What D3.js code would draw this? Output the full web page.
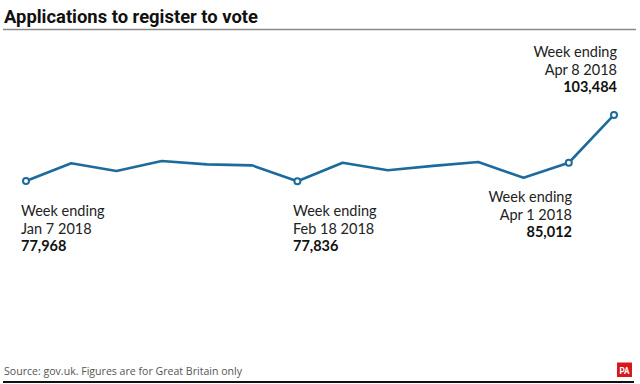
<!DOCTYPE html>
<html>
<head>
<meta charset="utf-8">
<script src="https://cdn.jsdelivr.net/npm/d3@7"></script>
<style>
  body { margin: 0; background: #fff; }
  svg { display: block; font-family: "Open Sans", sans-serif; }
</style>
</head>
<body>
<div id="root"></div>
<script>
const weeks = ["2018-01-07", "2018-01-14", "2018-01-21", "2018-01-28", "2018-02-04",
    "2018-02-11", "2018-02-18", "2018-02-25", "2018-03-04", "2018-03-11",
    "2018-03-18", "2018-03-25", "2018-04-01", "2018-04-08"];
const applications = [77968, 84800, 81800, 85700, 84400, 84000, 77836,
    85000, 82100, 83800, 85300, 79200, 85012, 103484];
const callouts = [
    { i: 0, date: "Jan 7 2018", anchor: "start" },
    { i: 6, date: "Feb 18 2018", anchor: "start" },
    { i: 12, date: "Apr 1 2018", anchor: "end" },
    { i: 13, date: "Apr 8 2018", anchor: "end" }
];

const width = 640,
    height = 384;

const parse = d3.timeParse("%Y-%m-%d");
const data = weeks.map((w, i) => ({ date: parse(w), value: applications[i] }));

const x = d3.scaleTime()
    .domain(d3.extent(data, d => d.date))
    .range([26, 614]);

const y = d3.scaleLinear()
    .domain([70000, 110000])
    .range([201.6, 98.1]);

const svg = d3.select("#root").append("svg")
    .attr("width", width)
    .attr("height", height);

// title
svg.append("text")
    .attr("x", 4)
    .attr("y", 23)
    .attr("font-family", "Roboto, sans-serif")
    .attr("font-weight", "bold")
    .attr("font-size", 18)
    .attr("fill", "#111")
    .attr("textLength", 254)
    .attr("lengthAdjust", "spacingAndGlyphs")
    .text("Applications to register to vote");

svg.append("line")
    .attr("x1", 3).attr("x2", 636)
    .attr("y1", 29.5).attr("y2", 29.5)
    .attr("stroke", "#8a8a8a")
    .attr("stroke-width", 1.5);

// line
const line = d3.line()
    .x(d => x(d.date))
    .y(d => y(d.value));

svg.append("path")
    .datum(data)
    .attr("fill", "none")
    .attr("stroke", "#1c6b9c")
    .attr("stroke-width", 2.6)
    .attr("stroke-linejoin", "round")
    .attr("d", line);

svg.selectAll(".dot")
    .data(callouts)
    .enter()
    .append("circle")
    .attr("class", "dot")
    .attr("cx", d => x(data[d.i].date))
    .attr("cy", d => y(data[d.i].value))
    .attr("r", 3)
    .attr("fill", "#fff")
    .attr("stroke", "#1c6b9c")
    .attr("stroke-width", 2);

// callout labels, one text per line
const labelPos = [
    { x: 21, y: 216 },
    { x: 293, y: 216 },
    { x: 572, y: 202 },
    { x: 617, y: 57 }
];
const rows = [
    { dy: 0, bold: false, get: d => "Week ending" },
    { dy: 17.5, bold: false, get: d => d.date },
    { dy: 35, bold: true, get: d => d3.format(",")(applications[d.i]) }
];

const label = svg.selectAll(".label")
    .data(callouts)
    .enter()
    .append("g")
    .attr("class", "label")
    .attr("transform", (d, k) => "translate(" + labelPos[k].x + "," + labelPos[k].y + ")");

rows.forEach(r => {
    label.append("text")
        .attr("y", r.dy)
        .attr("text-anchor", d => d.anchor)
        .attr("font-family", "Lato, sans-serif")
        .attr("font-size", 14.5)
        .attr("font-weight", r.bold ? "bold" : "normal")
        .attr("fill", r.bold ? "#111" : "#222")
        .text(r.get);
});

// footer
svg.append("text")
    .attr("x", 4)
    .attr("y", 375)
    .attr("font-size", 11.5)
    .attr("fill", "#555")
    .attr("textLength", 238)
    .attr("lengthAdjust", "spacingAndGlyphs")
    .text("Source: gov.uk. Figures are for Great Britain only");

svg.append("line")
    .attr("x1", 3).attr("x2", 634)
    .attr("y1", 382).attr("y2", 382)
    .attr("stroke", "#111")
    .attr("stroke-width", 2);

svg.append("rect")
    .attr("x", 617).attr("y", 362.5)
    .attr("width", 15).attr("height", 14.5)
    .attr("fill", "#d7191c");

svg.append("text")
    .attr("x", 624.5).attr("y", 373.5)
    .attr("text-anchor", "middle")
    .attr("font-family", "Roboto, sans-serif")
    .attr("font-weight", "bold")
    .attr("font-size", 9)
    .attr("fill", "#fff")
    .attr("textLength", 10)
    .attr("lengthAdjust", "spacingAndGlyphs")
    .text("PA");
</script>
</body>
</html>
